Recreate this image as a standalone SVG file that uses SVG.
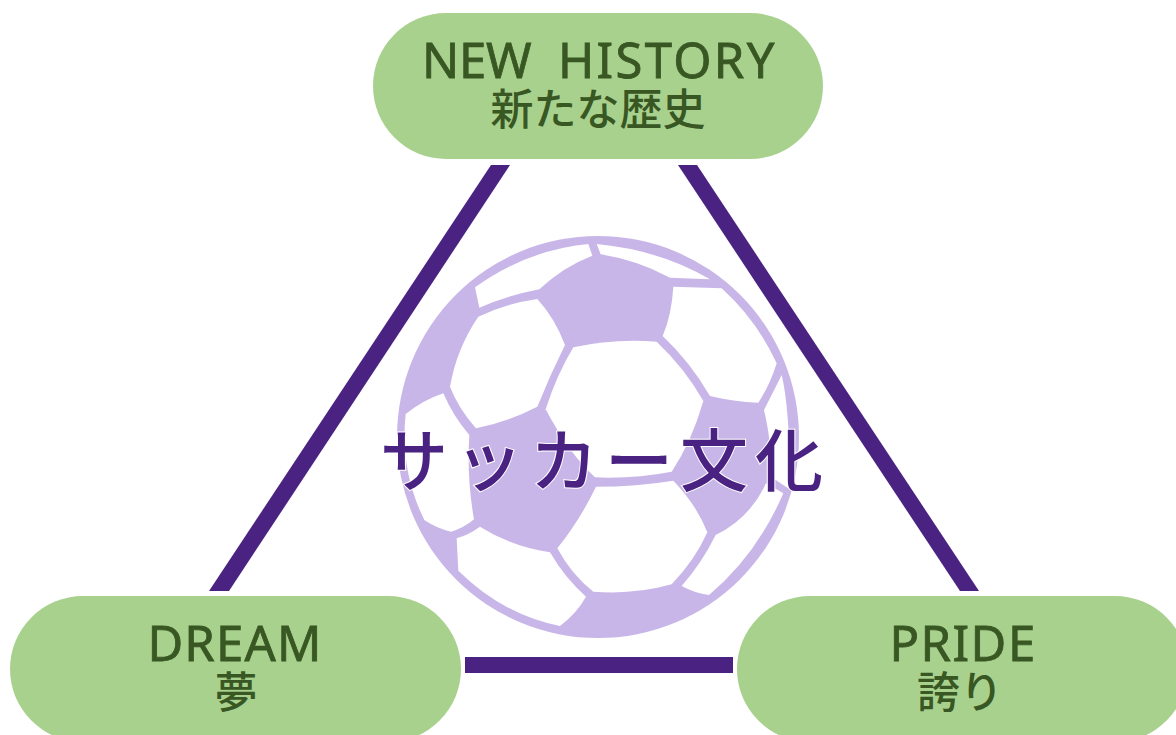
<svg xmlns="http://www.w3.org/2000/svg" width="1176" height="735" viewBox="0 0 1176 735">
<style>
.pill{fill:#A9D18E}
.t{fill:#385723;stroke:#385723;stroke-width:.8;text-anchor:middle;font-family:"Noto Sans","Noto Sans CJK JP",sans-serif;font-size:49px;white-space:pre}
.j{fill:#385723;text-anchor:middle;font-family:"Noto Sans CJK JP",sans-serif;font-weight:500;font-size:43px}
.c{fill:#4A2382}
.p{fill:#fff}
</style>
<rect width="1176" height="735" fill="#fff"/>
<g id="connectors">
<polygon class="c" points="491,165 510,165 229,591 209,591"/>
<polygon class="c" points="678,165 697,165 979,591 960,591"/>
<rect class="c" x="465" y="657" width="268" height="16"/>
</g>
<g id="ball">
<circle cx="598" cy="437" r="201" fill="#C9B6E9"/>
<g transform="translate(380 225) scale(.33333)">
<path class="p" d="M285 187Q440 75 625 57L637 92Q550 125 478 193Q380 212 298 248Z"/>
<path class="p" d="M650 57Q840 75 990 163L870 158Q770 105 662 88Z"/>
<path class="p" d="M880 185L1025 190Q1130 285 1190 415Q1170 480 1135 533Q1060 530 990 513Q930 410 848 333Q875 270 880 185Z"/>
<path class="p" d="M580 367Q700 340 830 350Q915 430 970 528Q935 650 875 740Q760 762 645 757Q570 690 497 553Q530 450 580 367Z"/>
<path class="p" d="M295 275Q380 235 472 222Q525 280 555 360Q510 450 472 545Q385 590 288 610Q235 550 210 485Q230 370 295 275Z"/>
<path class="p" d="M77 567Q130 525 190 505Q220 575 268 630Q260 760 282 883Q250 910 213 920Q170 910 133 885A580 580 0 0 1 77 567Z"/>
<path class="p" d="M230 940Q265 930 300 905Q395 965 510 982Q555 1060 618 1115Q590 1165 540 1203Q370 1170 235 1037Z"/>
<path class="p" d="M648 785Q770 785 880 767Q950 840 982 922Q945 1005 875 1078Q760 1110 640 1100Q575 1050 532 970Q600 885 648 785Z"/>
<path class="p" d="M1007 930Q1110 880 1158 775L1210 805Q1130 990 987 1110Q945 1105 905 1083Q965 1015 1007 930Z"/>
<path class="p" d="M1205 450Q1228 540 1232 795L1165 750Q1180 670 1152 555Q1180 500 1205 450Z"/>
</g>
</g>
<text id="center" x="605" y="486" text-anchor="middle" font-family="'Noto Sans CJK JP',sans-serif" font-size="68" font-weight="500" letter-spacing="7" fill="#4A2382" stroke="#fff" stroke-width="2" paint-order="stroke">サッカー文化</text>
<g id="top">
<rect class="pill" x="373" y="13" width="450" height="146" rx="73"/>
<text class="t" x="422" y="78" style="text-anchor:start"><tspan letter-spacing="-.3">NEW  </tspan><tspan x="558" letter-spacing="2.3">HISTORY</tspan></text>
<text class="j" x="598" y="125">新たな歴史</text>
</g>
<g id="dream">
<rect class="pill" x="10" y="596" width="451" height="146" rx="73"/>
<text class="t" x="235" y="661" letter-spacing="1.2">DREAM</text>
<text class="j" x="236" y="708">夢</text>
</g>
<g id="pride">
<rect class="pill" x="737" y="596" width="451" height="146" rx="73"/>
<text class="t" x="963" y="661" letter-spacing="1.5">PRIDE</text>
<text class="j" x="960" y="708">誇り</text>
</g>
</svg>
